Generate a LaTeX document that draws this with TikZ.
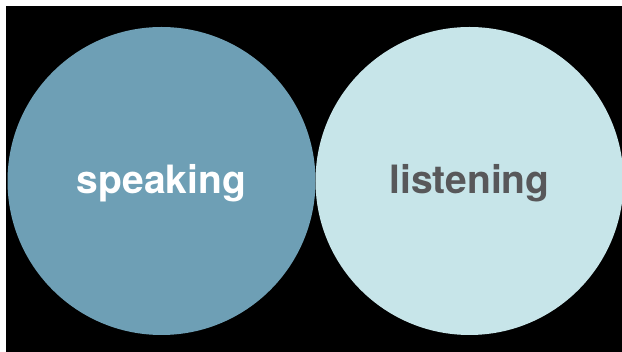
\documentclass[tikz,border=0pt]{standalone}
\usepackage{fontspec}
\setmainfont{TeX Gyre Heros}
\definecolor{speakc}{HTML}{6E9FB5}
\definecolor{listc}{HTML}{C7E5E9}
\definecolor{greyt}{HTML}{58585A}
\begin{document}
\begin{tikzpicture}[x=1pt,y=-1pt,
  bubble/.style={circle,minimum size=308pt,inner sep=0pt,draw=none},
  lbl/.style={font=\fontsize{39}{41}\selectfont\bfseries}]
\useasboundingbox (0,0) rectangle (622,352);
\fill[white] (0,0) rectangle (622,352);
\fill[black] (6,6) rectangle (622,352);
\node[bubble,fill=speakc] (speak) at (161.5,181) {};
\node[bubble,fill=listc] (listen) at (469.5,181) {};
\node[lbl,text=white,yshift=-2pt] (speaklbl) at (speak.center) {speaking};
\node[lbl,text=greyt,yshift=-2pt] (listenlbl) at (listen.center) {listening};
\end{tikzpicture}
\end{document}
